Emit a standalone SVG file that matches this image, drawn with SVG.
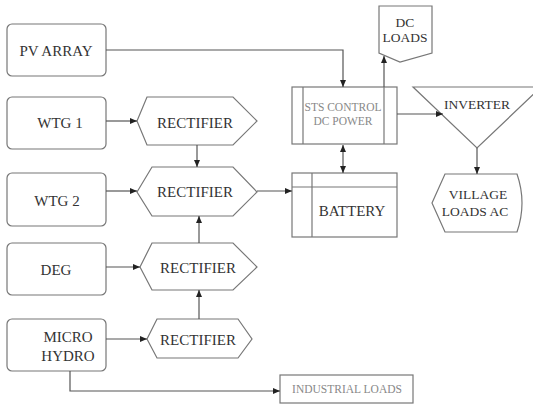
<svg xmlns="http://www.w3.org/2000/svg" width="533" height="404" viewBox="0 0 533 404">
<defs>
<marker id="ah" markerWidth="8" markerHeight="8" refX="7" refY="4" orient="auto" markerUnits="userSpaceOnUse">
<path d="M0,1 L7,4 L0,7 Z" fill="#222"/>
</marker>
<marker id="ahs" markerWidth="8" markerHeight="8" refX="0" refY="4" orient="auto" markerUnits="userSpaceOnUse">
<path d="M7,1 L0,4 L7,7 Z" fill="#222"/>
</marker>
</defs>
<style>
.n{fill:#fff;stroke:#777;stroke-width:1.2}
.t{font-family:"Liberation Serif","Times New Roman",serif;font-size:15px;fill:#333;text-anchor:middle}
.s{font-size:13.5px}
.g{fill:#888;font-size:11.5px}
.c{fill:none;stroke:#555;stroke-width:1.2}
</style>
<rect width="533" height="404" fill="#fff"/>
<g id="pv"><rect class="n" x="7" y="24" width="99" height="52" rx="5"/><text class="t" x="56" y="56">PV ARRAY</text></g>
<g id="wtg1"><rect class="n" x="7" y="97" width="99" height="52" rx="5"/><text class="t" x="60" y="128">WTG 1</text></g>
<g id="wtg2"><rect class="n" x="7" y="173" width="99" height="53" rx="5"/><text class="t" x="57" y="206">WTG 2</text></g>
<g id="deg"><rect class="n" x="7" y="243" width="99" height="52" rx="5"/><text class="t" x="56" y="275">DEG</text></g>
<g id="micro"><rect class="n" x="7" y="319" width="99" height="52" rx="5"/><text class="t" x="68" y="342">MICRO</text><text class="t" x="68" y="361">HYDRO</text></g>
<g id="rect1"><polygon class="n" points="137,121 147,97 233,97 257,121 233,145 147,145"/><text class="t" x="195" y="128">RECTIFIER</text></g>
<g id="rect2"><polygon class="n" points="137,192 152,167 233,167 257,192 233,216 152,216"/><text class="t" x="195" y="197">RECTIFIER</text></g>
<g id="rect3"><polygon class="n" points="140,267 152,243 233,243 257,267 233,290 152,290"/><text class="t" x="198" y="273">RECTIFIER</text></g>
<g id="rect4"><polygon class="n" points="147,339 157,319 238,319 252,339 238,358 157,358"/><text class="t" x="198" y="345">RECTIFIER</text></g>
<g id="sts"><rect class="n" x="292" y="87" width="105" height="57"/><line class="n" x1="303" y1="87" x2="303" y2="144"/><line class="n" x1="384" y1="87" x2="384" y2="144"/><text class="t g" x="343" y="111">STS CONTROL</text><text class="t g" x="343" y="125">DC POWER</text></g>
<g id="battery"><rect class="n" x="292" y="173" width="105" height="64"/><line class="n" x1="312" y1="173" x2="312" y2="237"/><line class="n" x1="292" y1="187" x2="397" y2="187"/><text class="t" x="352" y="216">BATTERY</text></g>
<g id="dcloads"><path class="n" d="M379,6 L432,6 L432,53 L400,62 L379,53 Z"/><text class="t s" x="405" y="27">DC</text><text class="t s" x="405" y="42">LOADS</text></g>
<g id="inverter"><polygon class="n" points="413,87 541,87 477,148"/><text class="t s" x="477" y="109">INVERTER</text></g>
<g id="village"><path class="n" d="M432,203 L445,174 L517,174 Q527,203 517,232 L445,232 Z"/><text class="t s" x="478" y="199">VILLAGE</text><text class="t s" x="475" y="216">LOADS AC</text></g>
<g id="industrial"><rect class="n" x="280" y="375" width="133" height="28"/><text class="t g" x="347" y="393">INDUSTRIAL LOADS</text></g>
<g id="connectors">
<path class="c" d="M106,50 H343 V87" marker-end="url(#ah)"/>
<path class="c" d="M106,121 H137" marker-end="url(#ah)"/>
<path class="c" d="M197,145 V167" marker-end="url(#ah)"/>
<path class="c" d="M106,191 H137" marker-end="url(#ah)"/>
<path class="c" d="M199,243 V216" marker-end="url(#ah)"/>
<path class="c" d="M106,267 H140" marker-end="url(#ah)"/>
<path class="c" d="M199,319 V290" marker-end="url(#ah)"/>
<path class="c" d="M106,339 H147" marker-end="url(#ah)"/>
<path class="c" d="M70,371 V391 H280" marker-end="url(#ah)"/>
<path class="c" d="M257,191 H292" marker-end="url(#ah)"/>
<path class="c" d="M343,145 V173" marker-start="url(#ahs)" marker-end="url(#ah)"/>
<path class="c" d="M384,87 V56" marker-end="url(#ah)"/>
<path class="c" d="M397,114 H443" marker-end="url(#ah)"/>
<path class="c" d="M477,148 V174" marker-end="url(#ah)"/>
</g>
</svg>
